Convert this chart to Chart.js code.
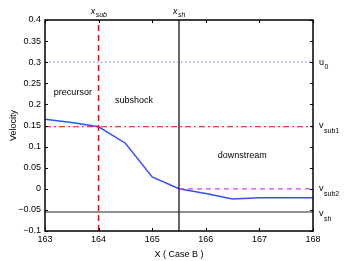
<!DOCTYPE html>
<html>
<head>
<meta charset="utf-8">
<script src="https://cdn.jsdelivr.net/npm/chart.js@4.4.0/dist/chart.umd.min.js"></script>
<style>
  html, body { margin: 0; padding: 0; background: #fff; }
  #wrap { width: 346px; height: 261px; }
</style>
</head>
<body>
<div id="wrap"><canvas id="velocityChart" width="346" height="261"></canvas></div>
<script>
// velocity profile (Case B)
const xPos = [163, 163.5, 164, 164.5, 165, 165.5, 166, 166.5, 167, 167.5, 168];
const velocity = [0.165, 0.157, 0.147, 0.108, 0.028, 0, -0.011, -0.024, -0.021, -0.021, -0.021];

// reference levels
const u0 = 0.3;
const vSub1 = 0.147;
const vSub2 = 0;
const vSh = -0.055;
const xSub = 164;
const xSh = 165.5;

const xTicks = [163, 164, 165, 166, 167, 168];
const yTicks = [-0.1, -0.05, 0, 0.05, 0.1, 0.15, 0.2, 0.25, 0.3, 0.35, 0.4];

const regionLabels = [
  { text: 'precursor', x: 163.52, y: 0.229 },
  { text: 'subshock', x: 164.66, y: 0.21 },
  { text: 'downstream', x: 166.68, y: 0.08 },
];

const FONT = '"Liberation Sans", Arial, sans-serif';

const fmt = v => {
  const r = Math.round(v * 100) / 100;
  return r < 0 ? '\u2212' + Math.abs(r) : String(r);
};

const hline = (y, x0, x1, color, dash, width) => ({
  data: [{ x: x0, y: y }, { x: x1, y: y }],
  borderColor: color, borderDash: dash, borderWidth: width,
  pointRadius: 0, fill: false,
});
const vline = (x, color, dash, width) => ({
  data: [{ x: x, y: -0.1 }, { x: x, y: 0.4 }],
  borderColor: color, borderDash: dash, borderWidth: width,
  pointRadius: 0, fill: false,
});

// box, inward ticks and text labels
const decor = {
  id: 'decor',
  afterDatasetsDraw(chart) {
    const { ctx, chartArea: a, scales: { x, y } } = chart;
    ctx.save();
    ctx.strokeStyle = '#000';
    ctx.lineWidth = 1;
    ctx.beginPath();
    xTicks.forEach(t => {
      const px = Math.round(x.getPixelForValue(t)) + 0.5;
      ctx.moveTo(px, a.bottom); ctx.lineTo(px, a.bottom - 3);
      ctx.moveTo(px, a.top); ctx.lineTo(px, a.top + 3);
    });
    yTicks.forEach(t => {
      const py = Math.round(y.getPixelForValue(t)) + 0.5;
      ctx.moveTo(a.left, py); ctx.lineTo(a.left + 3, py);
      ctx.moveTo(a.right, py); ctx.lineTo(a.right - 3, py);
    });
    ctx.stroke();
    ctx.lineWidth = 1.5;
    ctx.strokeRect(a.left, a.top, a.right - a.left, a.bottom - a.top);

    ctx.fillStyle = '#000';
    ctx.font = '9px ' + FONT;
    ctx.textAlign = 'center';
    ctx.textBaseline = 'middle';
    regionLabels.forEach(l => {
      ctx.fillText(l.text, x.getPixelForValue(l.x), y.getPixelForValue(l.y));
    });

    // right-side level names
    const sub = (main, s, px, py) => {
      ctx.textAlign = 'left';
      ctx.font = '9px ' + FONT;
      ctx.fillText(main, px, py);
      const w = ctx.measureText(main).width;
      ctx.font = '7px ' + FONT;
      ctx.fillText(s, px + w + 0.5, py + 5);
    };
    const rx = a.right + 6;
    sub('u', '0', rx, y.getPixelForValue(u0));
    sub('v', 'sub1', rx, y.getPixelForValue(vSub1) - 1);
    sub('v', 'sub2', rx, y.getPixelForValue(vSub2));
    sub('v', 'sh', rx, y.getPixelForValue(vSh) + 2);

    // top position names
    const top = (s, xv) => {
      const px = x.getPixelForValue(xv);
      ctx.font = 'italic 9px ' + FONT;
      const w1 = ctx.measureText('x').width;
      ctx.font = 'italic 7px ' + FONT;
      const w2 = ctx.measureText(s).width;
      const start = px - (w1 + w2) / 2;
      ctx.textAlign = 'left';
      ctx.font = 'italic 9px ' + FONT;
      ctx.fillText('x', start, a.top - 9);
      ctx.font = 'italic 7px ' + FONT;
      ctx.fillText(s, start + w1 + 0.5, a.top - 5);
    };
    top('sub', xSub);
    top('sh', xSh);
    ctx.restore();
  }
};

const tickFont = { family: FONT, size: 9 };

new Chart(document.getElementById('velocityChart').getContext('2d'), {
  type: 'line',
  data: {
    datasets: [
      hline(u0, 163, 168, '#8c8cff', [1.5, 2.5], 1.2),
      hline(vSub1, 163, 168, '#ff0000', [6, 3, 2, 3], 1.2),
      hline(vSub2, xSh, 168, '#d040ff', [5, 4], 1.2),
      hline(vSh, 163, 168, '#222222', [], 1.2),
      vline(xSub, '#ff0000', [6, 4], 1.5),
      vline(xSh, '#000000', [], 1.2),
      {
        data: xPos.map((v, i) => ({ x: v, y: velocity[i] })),
        borderColor: '#3050ff', borderWidth: 1.5,
        pointRadius: 0, fill: false, tension: 0,
      },
    ]
  },
  options: {
    responsive: false,
    animation: false,
    events: [],
    layout: { padding: { top: 20, right: 33, bottom: 1, left: 0 } },
    plugins: { legend: { display: false }, tooltip: { enabled: false } },
    scales: {
      x: {
        type: 'linear', min: 163, max: 168,
        afterBuildTicks: s => { s.ticks = xTicks.map(v => ({ value: v })); },
        afterFit: s => { s.height = 29; },
        grid: { display: false, drawTicks: false },
        border: { display: false },
        ticks: { color: '#000', font: tickFont, padding: 3, maxRotation: 0 },
        title: { display: true, text: 'X ( Case B )', color: '#000', font: tickFont, padding: 0 },
      },
      y: {
        type: 'linear', min: -0.1, max: 0.4,
        afterBuildTicks: s => { s.ticks = yTicks.map(v => ({ value: v })); },
        afterFit: s => { s.width = 45; },
        grid: { display: false, drawTicks: false },
        border: { display: false },
        ticks: { color: '#000', font: tickFont, padding: 4, callback: fmt },
        title: { display: true, text: 'Velocity', color: '#000', font: tickFont, padding: { top: 8, bottom: 0 } },
      },
    },
  },
  plugins: [decor],
});
</script>
</body>
</html>
